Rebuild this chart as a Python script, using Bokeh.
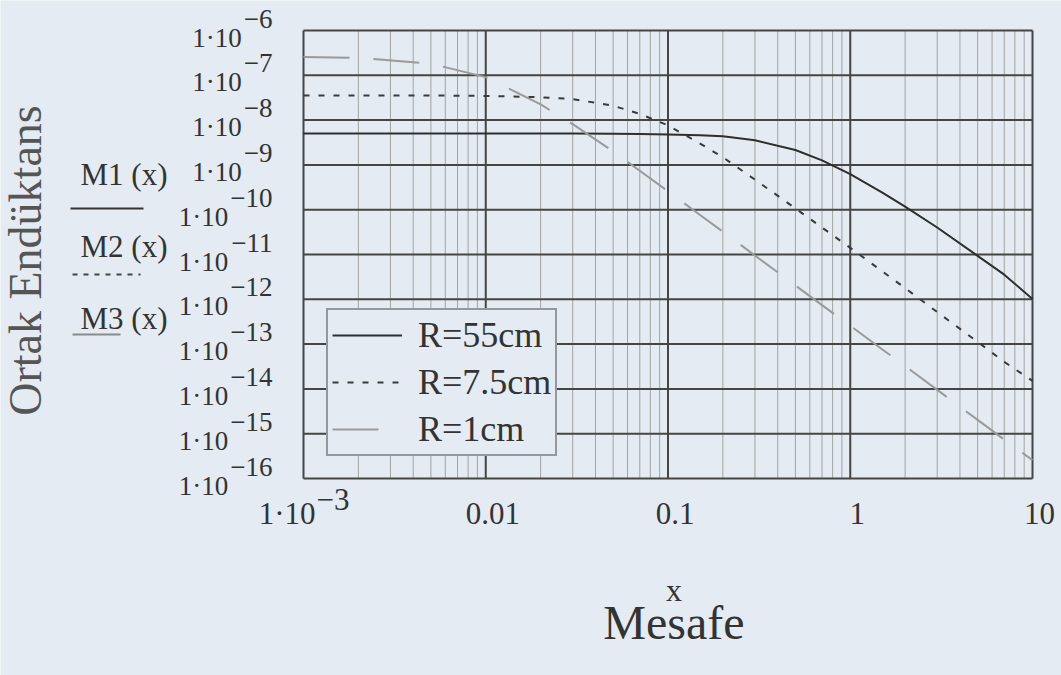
from bokeh.plotting import figure
from bokeh.models import Range1d, Label, Legend, LegendItem
from bokeh.embed import file_html
from bokeh.resources import INLINE

# ---- data ----
x_vals = [0.001, 0.002, 0.005, 0.01, 0.02, 0.03, 0.05, 0.07, 0.1, 0.15, 0.2,
          0.3, 0.5, 0.7, 1, 1.5, 2, 3, 5, 7, 10]
m1 = [5.0e-9, 5.0e-9, 5.0e-9, 5.0e-9, 5.0e-9, 5.0e-9, 4.96e-9, 4.9e-9, 4.8e-9,
      4.6e-9, 4.35e-9, 3.55e-9, 2.15e-9, 1.26e-9, 6.2e-10, 2.4e-10, 1.17e-10,
      4.0e-11, 9.3e-12, 3.55e-12, 1.02e-12]
m2 = [3.55e-8, 3.55e-8, 3.54e-8, 3.47e-8, 3.24e-8, 2.95e-8, 2.09e-8, 1.38e-8,
      7.6e-9, 3.0e-9, 1.48e-9, 4.7e-10, 1.07e-10, 4.0e-11, 1.41e-11, 4.2e-12,
      1.78e-12, 5.2e-13, 1.12e-13, 4.0e-14, 1.51e-14]
m3 = [2.57e-7, 2.45e-7, 1.82e-7, 9.1e-8, 2.24e-8, 8.1e-9, 2.0e-9, 7.4e-10,
      2.57e-10, 7.6e-11, 3.24e-11, 9.5e-12, 2.04e-12, 7.4e-13, 2.57e-13, 7.6e-14,
      3.24e-14, 9.5e-15, 2.04e-15, 7.4e-16, 2.57e-16]
series_labels = ["R=55cm", "R=7.5cm", "R=1cm"]
axis_names = ["M1 (x)", "M2 (x)", "M3 (x)"]
y_tick_exps = [-6, -7, -8, -9, -10, -11, -12, -13, -14, -15, -16]
x_ticks = [0.001, 0.01, 0.1, 1, 10]
x_tick_labels = ["1·10", "0.01", "0.1", "1", "10"]
x_first_exp = "−3"
y_title = "Ortak Endüktans"
x_var = "x"
x_title = "Mesafe"

# ---- layout / styling ----
FONT = "Liberation Serif"
BG = "#e4ebf2"
TXT = "#333333"
GRID = "#454545"
W, H = 1061, 675
L, R, T, B = 303, 1032, 30, 478          # plot box in canvas pixels
XMIN, XMAX = x_ticks[0], x_ticks[-1]
YTOP, YBOT = 10.0 ** y_tick_exps[0], 10.0 ** y_tick_exps[-1]
DEC_X = (R - L) / 4.0     # px per decade (x)
DEC_Y = (B - T) / 10.0    # px per decade (y)

p = figure(width=W, height=H, x_axis_type="log", y_axis_type="log",
           x_range=Range1d(XMIN * 10 ** (-L / DEC_X), XMAX * 10 ** ((W - R) / DEC_X)),
           y_range=Range1d(YBOT * 10 ** (-(H - B) / DEC_Y), YTOP * 10 ** (T / DEC_Y)),
           x_axis_location=None, y_axis_location=None,
           toolbar_location=None, output_backend="svg",
           min_border=0)
p.background_fill_color = BG
p.border_fill_color = BG
p.outline_line_color = None
p.grid.visible = False

# grid (Mathcad style: minor verticals, major lines both ways)
minor = [k * 10.0 ** d for d in range(-3, 1) for k in range(2, 10)]
p.segment(x0=minor, y0=YBOT, x1=minor, y1=YTOP, line_color="#a3a3a3", line_width=1)
y_ticks = [10.0 ** e for e in y_tick_exps]
p.segment(x0=XMIN, y0=y_ticks, x1=XMAX, y1=y_ticks, line_color=GRID, line_width=2)
p.segment(x0=x_ticks, y0=YBOT, x1=x_ticks, y1=YTOP, line_color=GRID, line_width=2)

r1 = p.line(x_vals, m1, line_color="#2e2e2e", line_width=2)
r2 = p.line(x_vals, m2, line_color="#3a3a3a", line_width=2, line_dash="6 9")
r3 = p.line(x_vals, m3, line_color="#9a9a9a", line_width=2, line_dash="46 24")

legend = Legend(items=[LegendItem(label=series_labels[0], renderers=[r1]),
                       LegendItem(label=series_labels[1], renderers=[r2]),
                       LegendItem(label=series_labels[2], renderers=[r3])],
                location=(L + 23, H - 456), margin=0, padding=4, spacing=5,
                glyph_width=70, glyph_height=38, label_height=38,
                label_standoff=16, label_text_font=FONT,
                label_text_font_size="36px", label_text_color=TXT,
                background_fill_color=BG, background_fill_alpha=1.0,
                border_line_color="#444444", border_line_width=2)
p.add_layout(legend)

def lab(text, x, y, xo, yo, size, align="left", color=TXT, angle=0.0):
    p.add_layout(Label(x=x, y=y, x_offset=xo, y_offset=yo, text=text,
                       text_font=FONT, text_font_size=f"{size}px",
                       text_color=color, text_align=align,
                       text_baseline="middle", angle=angle))

# y tick labels "1·10" with raised exponent
YFS = 27
for e in y_tick_exps:
    ex = "−" + str(-e)
    nd = len(str(-e))
    expw = YFS * (0.564 + 0.5 * nd) + 2
    lab(ex, XMIN, 10.0 ** e, -31, 12, YFS, "right")
    lab("1·10", XMIN, 10.0 ** e, -31 - expw, -7, YFS, "right")

# x tick labels
XFS = 31
lab(x_tick_labels[0], x_ticks[0], YBOT, 12, -35, XFS, "right")
lab(x_first_exp, x_ticks[0], YBOT, 13, -21, XFS, "left")
for t, s in zip(x_ticks[1:], x_tick_labels[1:]):
    lab(s, t, YBOT, 7, -35, XFS, "center")

# axis titles
lab(x_var, 0.1, YBOT, 6, -111, 32, "center")
lab(x_title, 0.1, YBOT, 6, -144, 48, "center")
lab(y_title, XMIN, 1e-11, -278, -6, 46, "center", color="#555555", angle=1.5708)

# Mathcad-style expression labels with underlines
name_y = [-144, -216, -288]
under_y = [-178, -244, -304]
under_x = [(-233, -160), (-231, -163), (-231, -183)]
under_style = [("#333333", "solid"), ("#444444", "5 6"), ("#8a8a8a", "solid")]
for nm, ny, uy, (ux0, ux1), (uc, ud) in zip(axis_names, name_y, under_y, under_x, under_style):
    lab(nm, XMIN, YTOP, -223, ny, 31, "left")
    xa = XMIN * 10 ** (ux0 / DEC_X)
    xb = XMIN * 10 ** (ux1 / DEC_X)
    ya = YTOP * 10 ** (uy / DEC_Y)
    p.segment(x0=[xa], y0=[ya], x1=[xb], y1=[ya], line_color=uc, line_width=2,
              line_dash=ud)

open("out.html", "w").write(file_html(p, INLINE))
